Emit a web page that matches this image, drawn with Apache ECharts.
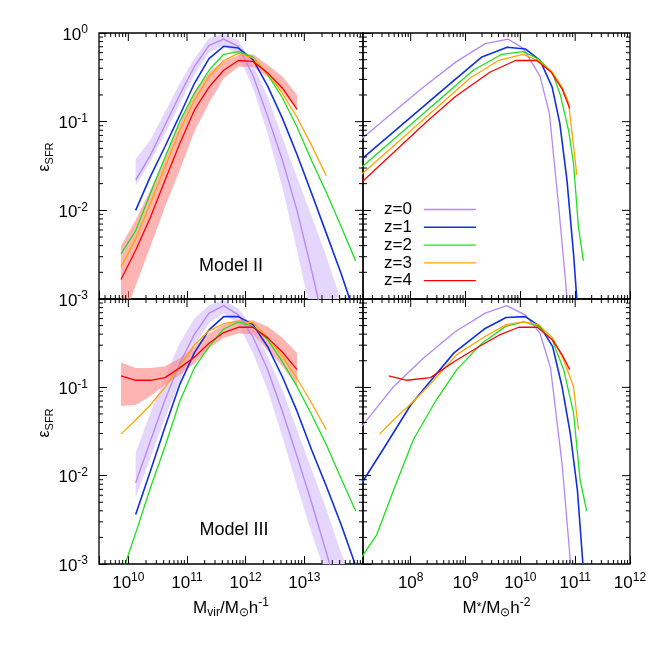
<!DOCTYPE html>
<html>
<head>
<meta charset="utf-8">
<script src="https://cdn.jsdelivr.net/npm/echarts@6/dist/echarts.min.js"></script>
<style>html,body{margin:0;padding:0;background:#fff}#c{width:664px;height:664px}</style>
</head>
<body>
<div id="c"></div>
<script>
// ---------- data (log10 values) ----------
const seriesNames = ['z=0', 'z=1', 'z=2', 'z=3', 'z=4'];

// halo-mass bins, log10(Mvir / Msun h^-1)
const logMvirBins = [9.875, 10.125, 10.375, 10.625, 10.875, 11.125, 11.375, 11.625, 11.875,
                     12.125, 12.375, 12.625, 12.875, 13.125, 13.375, 13.625, 13.875];

// Model II, log10(eps_SFR) vs Mvir
const m2vir_z0 = [null, -1.66, -1.38, -1.04, -0.70, -0.38, -0.14, -0.07, -0.15, -0.48, -0.94, -1.43, -2.00, -2.68, -3.40, null, null];
const m2vir_z1 = [null, -2.00, -1.62, -1.28, -0.93, -0.57, -0.29, -0.15, -0.17, -0.30, -0.60, -0.96, -1.37, -1.81, -2.26, -2.71, -3.20];
const m2vir_z2 = [-2.49, -2.23, -1.81, -1.40, -1.00, -0.68, -0.42, -0.24, -0.21, -0.27, -0.47, -0.73, -1.06, -1.44, -1.80, -2.18, -2.57];
const m2vir_z3 = [-2.64, -2.32, -1.92, -1.51, -1.10, -0.76, -0.49, -0.31, -0.23, -0.28, -0.45, -0.68, -0.95, -1.27, -1.61, null, null];
const m2vir_z4 = [-2.78, -2.45, -2.08, -1.66, -1.25, -0.87, -0.61, -0.42, -0.31, -0.32, -0.45, -0.62, -0.86, null, null, null, null];
const m2vir_z0_hi = [null, -1.42, -1.21, -0.89, -0.57, -0.29, -0.06, -0.01, -0.08, -0.36, -0.72, -1.18, -1.63, -2.07, -2.52, -3.02, -3.50];
const m2vir_z0_lo = [null, -1.72, -1.45, -1.14, -0.80, -0.47, -0.22, -0.14, -0.25, -0.62, -1.14, -1.74, -2.45, -3.20, -4.00, -4.00, -4.00];
const m2vir_z4_hi = [-2.40, -2.11, -1.77, -1.40, -1.00, -0.66, -0.44, -0.32, -0.25, -0.24, -0.36, -0.49, -0.70, null, null, null, null];
const m2vir_z4_lo = [-3.30, -2.85, -2.41, -1.96, -1.55, -1.11, -0.79, -0.51, -0.38, -0.38, -0.50, -0.66, -0.88, null, null, null, null];

// Model III, log10(eps_SFR) vs Mvir
const m3vir_z0 = [null, -2.08, -1.61, -1.14, -0.73, -0.40, -0.16, -0.075, -0.18, -0.43, -0.80, -1.27, -1.78, -2.31, -2.87, -3.44, null];
const m3vir_z1 = [null, -2.44, -1.95, -1.45, -0.97, -0.61, -0.35, -0.20, -0.20, -0.29, -0.54, -0.88, -1.27, -1.71, -2.12, -2.55, -3.02];
const m3vir_z2 = [-3.14, -2.65, -2.14, -1.67, -1.16, -0.78, -0.54, -0.34, -0.26, -0.31, -0.46, -0.71, -0.99, -1.31, -1.65, -2.03, -2.40];
const m3vir_z3 = [-1.53, -1.37, -1.20, -1.00, -0.76, -0.52, -0.36, -0.28, -0.25, -0.27, -0.43, -0.65, -0.90, -1.18, -1.48, null, null];
const m3vir_z4 = [-0.87, -0.92, -0.92, -0.89, -0.78, -0.66, -0.50, -0.38, -0.32, -0.32, -0.44, -0.60, -0.80, null, null, null, null];
const m3vir_z0_hi = [null, -1.74, -1.29, -0.88, -0.50, -0.22, -0.07, -0.01, -0.11, -0.31, -0.65, -1.03, -1.48, -1.93, -2.38, -2.87, -3.30];
const m3vir_z0_lo = [null, -2.25, -1.80, -1.35, -0.93, -0.53, -0.27, -0.16, -0.29, -0.61, -1.03, -1.56, -2.12, -2.65, -3.14, -3.66, -4.00];
const m3vir_z4_hi = [-0.72, -0.78, -0.78, -0.76, -0.67, -0.54, -0.39, -0.29, -0.24, -0.24, -0.31, -0.44, -0.61, null, null, null, null];
const m3vir_z4_lo = [-1.21, -1.20, -1.10, -0.97, -0.86, -0.73, -0.56, -0.44, -0.39, -0.40, -0.58, -0.76, -0.99, null, null, null, null];

// Model II, log10(eps_SFR) vs M* (log10 M*/Msun h^-2)
const m2star_z0_x = [7.11, 8.20, 8.84, 9.36, 9.78, 10.05, 10.36, 10.53, 10.70, 10.85];
const m2star_z0_y = [-1.19, -0.625, -0.32, -0.12, -0.07, -0.17, -0.49, -0.91, -1.96, -2.98];
const m2star_z1_x = [7.11, 8.72, 9.30, 9.76, 10.09, 10.36, 10.58, 10.72, 10.85, 10.97, 11.03];
const m2star_z1_y = [-1.42, -0.57, -0.27, -0.16, -0.18, -0.31, -0.61, -1.02, -1.66, -2.49, -3.00];
const m2star_z2_x = [7.11, 9.14, 9.66, 10.05, 10.32, 10.58, 10.73, 10.88, 10.97, 11.06, 11.15];
const m2star_z2_y = [-1.51, -0.42, -0.24, -0.21, -0.29, -0.44, -0.70, -1.10, -1.47, -2.19, -2.57];
const m2star_z3_x = [7.11, 9.08, 9.60, 10.05, 10.32, 10.58, 10.76, 10.88, 10.97, 11.03];
const m2star_z3_y = [-1.59, -0.51, -0.31, -0.24, -0.31, -0.44, -0.61, -0.79, -1.27, -1.60];
const m2star_z4_x = [7.11, 8.29, 8.81, 9.45, 9.91, 10.30, 10.56, 10.76, 10.90];
const m2star_z4_y = [-1.68, -1.00, -0.72, -0.44, -0.31, -0.31, -0.44, -0.63, -0.85];

// Model III, log10(eps_SFR) vs M*
const m3star_z0_x = [7.11, 7.69, 8.23, 8.81, 9.36, 9.75, 10.09, 10.36, 10.55, 10.76, 10.91, 10.97];
const m3star_z0_y = [-1.44, -0.99, -0.67, -0.37, -0.16, -0.075, -0.18, -0.39, -0.78, -1.86, -2.95, -3.30];
const m3star_z1_x = [7.11, 7.51, 8.00, 8.33, 8.79, 9.34, 9.74, 10.09, 10.36, 10.59, 10.76, 10.91, 11.04, 11.14];
const m3star_z1_y = [-2.08, -1.69, -1.20, -0.95, -0.61, -0.34, -0.21, -0.20, -0.31, -0.54, -0.99, -1.52, -2.16, -2.99];
const m3star_z2_x = [7.11, 7.38, 7.69, 8.05, 8.45, 8.84, 9.30, 9.73, 10.06, 10.33, 10.58, 10.79, 10.97, 11.09, 11.21];
const m3star_z2_y = [-2.92, -2.67, -2.16, -1.59, -1.16, -0.80, -0.50, -0.31, -0.26, -0.31, -0.46, -0.80, -1.29, -2.05, -2.40];
const m3star_z3_x = [7.43, 7.75, 8.05, 8.42, 8.84, 9.34, 9.74, 10.06, 10.33, 10.59, 10.79, 10.97, 11.06];
const m3star_z3_y = [-1.53, -1.33, -1.16, -0.92, -0.63, -0.43, -0.29, -0.26, -0.29, -0.44, -0.69, -0.99, -1.48];
const m3star_z4_x = [7.60, 7.93, 8.36, 8.79, 9.24, 9.61, 9.97, 10.31, 10.58, 10.76, 10.90];
const m3star_z4_y = [-0.87, -0.92, -0.89, -0.71, -0.54, -0.41, -0.32, -0.32, -0.46, -0.63, -0.80];

// axis ranges (log10) and tick decades
const mvirRange = [9.5, 14];
const mstarRange = [7.13, 12];
const epsRange = [-3, 0];
const mvirDecades = [9, 10, 11, 12, 13];
const mstarDecades = [7, 8, 9, 10, 11];
const epsDecades = [-3, -2, -1];
const minorMultipliers = [2, 3, 4, 5, 6, 7, 8, 9];
const mvirMajorTop = [10, 11, 12, 13];
const mstarMajorTop = [8, 9, 10, 11];
const epsMajorRight = [-2, -1];
const mvirLabelExps = [10, 11, 12, 13];
const mstarLabelExps = [8, 9, 10, 11, 12];
const epsLabelExpsTop = [0, -1, -2, -3];
const epsLabelExpsBottom = [-1, -2, -3];

// ---------- styling ----------
const FONT = "'Liberation Sans', Arial, Helvetica, sans-serif";
const lineColors = ['#b488f4', '#1030e0', '#1ee01e', '#ffa500', '#ff0000'];
const lineWidths = [1.3, 1.6, 1.3, 1.3, 1.3];
const bandPurple = '#e4d6fc';
const bandRed = 'rgba(255,130,130,0.6)';

// ---------- helpers ----------
const p10 = v => Math.pow(10, v);
function pairs(xs, ys) {
  const out = [];
  for (let i = 0; i < ys.length; i++) {
    if (ys[i] != null && xs[i] != null) out.push([p10(xs[i]), p10(ys[i])]);
  }
  return out;
}
function bandRows(xs, lo, hi) {
  const out = [];
  for (let i = 0; i < xs.length; i++) {
    if (lo[i] != null && hi[i] != null) out.push([p10(xs[i]), p10(lo[i]), p10(hi[i])]);
  }
  return out;
}
function minorVals(decades, range) {
  const out = [];
  decades.forEach(n => minorMultipliers.forEach(k => {
    const l = Math.log10(k) + n;
    if (l > range[0] + 1e-6 && l < range[1] - 1e-6) out.push(k * p10(n));
  }));
  return out;
}
function powLabel(allowed) {
  return function (v) {
    const e = Math.log10(v);
    const r = Math.round(e);
    if (Math.abs(e - r) > 1e-6) return '';
    if (allowed.indexOf(r) < 0) return '';
    return '{b|10}{s|' + r + '}';
  };
}
const labelRich = {
  b: { fontSize: 17, lineHeight: 22, fontFamily: FONT, color: '#000' },
  s: { fontSize: 12, lineHeight: 11, verticalAlign: 'top', fontFamily: FONT, color: '#000' }
};
const nameRich = {
  m: { fontSize: 17, lineHeight: 22, fontFamily: FONT, color: '#000' },
  s: { fontSize: 12, lineHeight: 12, verticalAlign: 'bottom', fontFamily: FONT, color: '#000' },
  a: { fontSize: 12, lineHeight: 22, fontFamily: FONT, color: '#000' },
  p: { fontSize: 12, lineHeight: 11, verticalAlign: 'top', fontFamily: FONT, color: '#000' }
};

const gridDefs = [
  { left: 99, top: 33, width: 264, height: 266 },
  { left: 363, top: 33, width: 267, height: 266 },
  { left: 99, top: 299, width: 264, height: 265 },
  { left: 363, top: 299, width: 267, height: 265 }
];

function xAxisDef(gi, range, labelExps, name) {
  return {
    type: 'log', logBase: 10, gridIndex: gi, min: p10(range[0]), max: p10(range[1]),
    axisLine: { show: false }, splitLine: { show: false },
    axisTick: { show: true, inside: true, length: 8, lineStyle: { color: '#000', width: 1 } },
    minorTick: { show: false },
    axisLabel: { show: !!labelExps, formatter: powLabel(labelExps || []), rich: labelRich, margin: 8,
                 showMinLabel: true, showMaxLabel: true },
    name: name || '', nameLocation: 'middle', nameGap: 33,
    nameTextStyle: { rich: nameRich, fontFamily: FONT, color: '#000' }
  };
}
function yAxisDef(gi, labelExps) {
  return {
    type: 'log', logBase: 10, gridIndex: gi, min: p10(epsRange[0]), max: p10(epsRange[1]),
    axisLine: { show: false }, splitLine: { show: false },
    axisTick: { show: true, inside: true, length: 8, lineStyle: { color: '#000', width: 1 } },
    minorTick: { show: false },
    axisLabel: { show: !!labelExps, formatter: powLabel(labelExps || []), rich: labelRich, margin: 11,
                 padding: [4, 0, 0, 0], showMinLabel: true, showMaxLabel: true }
  };
}

function lineSeries(gi, idx, data) {
  return {
    type: 'line', name: seriesNames[idx], xAxisIndex: gi, yAxisIndex: gi, data: data,
    symbol: 'none', showSymbol: false, smooth: false, clip: true, z: 3,
    lineStyle: { color: lineColors[idx], width: lineWidths[idx] },
    itemStyle: { color: lineColors[idx] },
    emphasis: { disabled: true }, animation: false
  };
}
function bandSeries(gi, rows, color) {
  return {
    type: 'custom', xAxisIndex: gi, yAxisIndex: gi, clip: true, silent: true, z: 1,
    data: rows.map(r => [r[0], r[2]]), animation: false,
    renderItem: function (params, api) {
      if (params.dataIndex !== 0) return null;
      const top = rows.map(r => api.coord([r[0], r[2]]));
      const bot = rows.map(r => api.coord([r[0], r[1]])).reverse();
      return { type: 'polygon', shape: { points: top.concat(bot) }, style: { fill: color } };
    }
  };
}
function tickSeries(gi, xMinor, xMajorTop, yMinor, yMajorRight, xRef, yRef) {
  const data = [];
  xMinor.forEach(v => data.push([v, yRef, 0]));
  xMajorTop.forEach(v => data.push([v, yRef, 1]));
  yMinor.forEach(v => data.push([xRef, v, 2]));
  yMajorRight.forEach(v => data.push([xRef, v, 3]));
  return {
    type: 'custom', xAxisIndex: gi, yAxisIndex: gi, silent: true, z: 6, clip: false,
    animation: false, data: data, encode: { x: 0, y: 1 },
    renderItem: function (params, api) {
      const cs = params.coordSys;
      const k = api.value(2);
      const p = api.coord([api.value(0), api.value(1)]);
      const st = { stroke: '#000', lineWidth: 1 };
      const ch = [];
      if (k < 2) {
        const L = k === 0 ? 4 : 8;
        const x = p[0];
        ch.push({ type: 'line', shape: { x1: x, y1: cs.y, x2: x, y2: cs.y + L }, style: st });
        if (k === 0) ch.push({ type: 'line', shape: { x1: x, y1: cs.y + cs.height, x2: x, y2: cs.y + cs.height - L }, style: st });
      } else {
        const L = k === 2 ? 4 : 8;
        const y = p[1];
        ch.push({ type: 'line', shape: { x1: cs.x + cs.width, y1: y, x2: cs.x + cs.width - L, y2: y }, style: st });
        if (k === 2) ch.push({ type: 'line', shape: { x1: cs.x, y1: y, x2: cs.x + L, y2: y }, style: st });
      }
      return { type: 'group', children: ch };
    }
  };
}

// ---------- build ----------
const mvirMinor = minorVals(mvirDecades, mvirRange);
const mstarMinor = minorVals(mstarDecades, mstarRange);
const epsMinor = minorVals(epsDecades, epsRange);
const mvirMajor = mvirMajorTop.map(p10);
const mstarMajor = mstarMajorTop.map(p10);
const epsMajor = epsMajorRight.map(p10);

const m2vir = [m2vir_z0, m2vir_z1, m2vir_z2, m2vir_z3, m2vir_z4];
const m3vir = [m3vir_z0, m3vir_z1, m3vir_z2, m3vir_z3, m3vir_z4];
const m2star = [[m2star_z0_x, m2star_z0_y], [m2star_z1_x, m2star_z1_y], [m2star_z2_x, m2star_z2_y], [m2star_z3_x, m2star_z3_y], [m2star_z4_x, m2star_z4_y]];
const m3star = [[m3star_z0_x, m3star_z0_y], [m3star_z1_x, m3star_z1_y], [m3star_z2_x, m3star_z2_y], [m3star_z3_x, m3star_z3_y], [m3star_z4_x, m3star_z4_y]];

const series = [];
series.push(bandSeries(0, bandRows(logMvirBins, m2vir_z0_lo, m2vir_z0_hi), bandPurple));
series.push(bandSeries(0, bandRows(logMvirBins, m2vir_z4_lo, m2vir_z4_hi), bandRed));
series.push(bandSeries(2, bandRows(logMvirBins, m3vir_z0_lo, m3vir_z0_hi), bandPurple));
series.push(bandSeries(2, bandRows(logMvirBins, m3vir_z4_lo, m3vir_z4_hi), bandRed));
for (let i = 0; i < 5; i++) series.push(lineSeries(0, i, pairs(logMvirBins, m2vir[i])));
for (let i = 0; i < 5; i++) series.push(lineSeries(1, i, pairs(m2star[i][0], m2star[i][1])));
for (let i = 0; i < 5; i++) series.push(lineSeries(2, i, pairs(logMvirBins, m3vir[i])));
for (let i = 0; i < 5; i++) series.push(lineSeries(3, i, pairs(m3star[i][0], m3star[i][1])));
series.push(tickSeries(0, mvirMinor, mvirMajor, epsMinor, epsMajor, 1e11, 0.1));
series.push(tickSeries(1, mstarMinor, mstarMajor, epsMinor, epsMajor, 1e9, 0.1));
series.push(tickSeries(2, mvirMinor, mvirMajor, epsMinor, epsMajor, 1e11, 0.1));
series.push(tickSeries(3, mstarMinor, mstarMajor, epsMinor, epsMajor, 1e9, 0.1));

const epsTitle = {
  text: '{e|\u03b5}{s|SFR}',
  rich: {
    e: { fontSize: 16, lineHeight: 20, fontFamily: FONT, fill: '#000' },
    s: { fontSize: 11, lineHeight: 12, verticalAlign: 'bottom', fontFamily: FONT, fill: '#000' }
  },
  align: 'center', verticalAlign: 'middle', fill: '#000'
};

const legendItems = seriesNames.map((n, i) => ({
  name: n,
  icon: 'path://M0,0H52V' + lineWidths[i] + 'H0Z',
  itemStyle: { color: lineColors[i] }
}));

const option = {
  animation: false,
  backgroundColor: '#fff',
  grid: gridDefs.map(g => Object.assign({ show: true, borderColor: '#000', borderWidth: 1.3, backgroundColor: 'transparent', containLabel: false }, g)),
  xAxis: [
    xAxisDef(0, mvirRange, null),
    xAxisDef(1, mstarRange, null),
    xAxisDef(2, mvirRange, mvirLabelExps, '{m|M}{s|vir}{m|/M}{s|\u2299}{m|h}{p|-1}'),
    xAxisDef(3, mstarRange, mstarLabelExps, '{m|M}{a|*}{m|/M}{s|\u2299}{m|h}{p|-2}')
  ],
  yAxis: [
    yAxisDef(0, epsLabelExpsTop),
    yAxisDef(1, null),
    yAxisDef(2, epsLabelExpsBottom),
    yAxisDef(3, null)
  ],
  legend: {
    data: legendItems, orient: 'vertical', left: 379, top: 196, align: 'right',
    itemWidth: 52, itemHeight: 18, itemGap: 0.8, selectedMode: false, symbolKeepAspect: true,
    textStyle: { fontSize: 17, fontFamily: FONT, color: '#000', padding: [0, 7, 0, 0] }
  },
  graphic: [
    { type: 'text', x: 45, y: 157, rotation: Math.PI / 2, style: epsTitle },
    { type: 'text', x: 45, y: 423, rotation: Math.PI / 2, style: epsTitle },
    { type: 'text', x: 231, y: 266, style: { text: 'Model II', fontSize: 18, fontFamily: FONT, fill: '#000', align: 'center', verticalAlign: 'middle' } },
    { type: 'text', x: 234, y: 530, style: { text: 'Model III', fontSize: 18, fontFamily: FONT, fill: '#000', align: 'center', verticalAlign: 'middle' } }
  ],
  series: series
};

const chart = echarts.init(document.getElementById('c'), null, { renderer: 'canvas' });
chart.setOption(option);
</script>
</body>
</html>
